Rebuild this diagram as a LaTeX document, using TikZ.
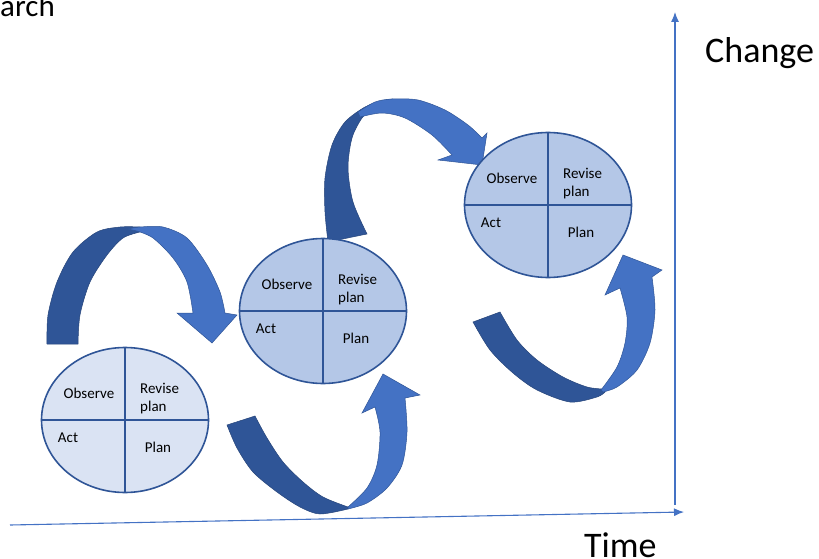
\documentclass[tikz,border=0pt]{standalone}
\usepackage{fontspec}
\setmainfont{Carlito}
\usepackage{tikz}
\usetikzlibrary{shapes.geometric, arrows.meta, calc}

\definecolor{cycA}{HTML}{DAE3F3}
\definecolor{cycB}{HTML}{B4C7E7}
\definecolor{rim}{HTML}{2F5597}
\definecolor{bandDark}{HTML}{2F5597}
\definecolor{bandLight}{HTML}{4472C4}
\definecolor{axis}{HTML}{4472C4}

\begin{document}
\begin{tikzpicture}[
  x=1pt, y=-1pt,
  cyc/.style={ellipse, draw=rim, line width=1.6pt, minimum width=167pt, minimum height=145pt, inner sep=0pt},
  cycline/.style={draw=rim, line width=1.6pt},
  lbl/.style={inner sep=0pt, font=\fontsize{15}{18}\selectfont},
  big/.style={inner sep=0pt, font=\fontsize{36}{40}\selectfont},
  back/.style={fill=bandDark, draw=rim!80!black, line width=0.5pt},
  front/.style={fill=bandLight, draw=rim, line width=0.5pt},
  axisline/.style={draw=axis, line width=1.1pt, -{Latex[length=10pt, width=8pt]}}
]
  \useasboundingbox (0,0) rectangle (819,559);

  \coordinate (t0) at (10,525);
  \coordinate (t1) at (684,512);
  \coordinate (c0) at (675,505);
  \coordinate (c1) at (675,12);
  \draw[axisline] (t0) -- (t1);
  \draw[axisline] (c0) -- (c1);

  \node[big, anchor=base west] (arch) at (0,17) {\fontsize{31}{34}\selectfont arch};
  \node[big, anchor=base west] (change) at (705,63) {Change};
  \node[big, anchor=base west] (time) at (584,557) {Time};

  % curved arrows
  \filldraw[back] plot[smooth] coordinates {(47,344) (48,315) (57,282) (73,252) (97,232) (120,227) (140,227)}
    -- plot[smooth] coordinates {(140,232) (123,238) (107,255) (90,282) (80,315) (78,344)} -- cycle;
  \filldraw[front] plot[smooth] coordinates {(128,229) (140,227) (163,227) (187,238) (207,265) (220,292) (225,313)}
    -- (237,315) -- (212,343) -- (177,313)
    -- plot[smooth] coordinates {(193,313) (187,282) (173,258) (153,238) (137,231)} -- cycle;

  \filldraw[back] plot[smooth] coordinates {(227,425) (237,448) (253,472) (277,492) (300,507) (320,514) (348,509)}
    -- plot[smooth] coordinates {(348,507) (323,497) (303,482) (283,462) (267,438) (255,416)} -- cycle;
  \filldraw[front] plot[smooth] coordinates {(348,509) (367,503) (387,488) (402,465) (407,432) (405,398)}
    -- (420,395) -- (383,374) -- (362,413)
    -- plot[smooth] coordinates {(375,407) (380,432) (377,465) (367,488) (348,507)} -- cycle;

  \filldraw[back] plot[smooth] coordinates {(328,242) (325,212) (325,178) (332,145) (345,122) (365,107) (382,101) (392,99)}
    -- plot[smooth] coordinates {(388,105) (372,110) (362,118) (352,138) (348,168) (353,202) (367,234)} -- cycle;
  \filldraw[front] plot[smooth] coordinates {(358,112) (375,102) (392,99) (418,100) (445,110) (468,125) (482,138)}
    -- (487,133) -- (482,165) -- (438,160)
    -- plot[smooth] coordinates {(452,155) (432,135) (405,118) (382,113) (360,117)} -- cycle;

  \filldraw[back] plot[smooth] coordinates {(473,322) (490,350) (513,373) (537,390) (570,402) (597,397) (605,392)}
    -- plot[smooth] coordinates {(603,389) (587,387) (563,377) (537,360) (517,340) (500,312)} -- cycle;
  \filldraw[front] plot[smooth] coordinates {(603,392) (617,387) (637,370) (650,343) (655,310) (652,277)}
    -- (662,270) -- (623,255) -- (605,295)
    -- plot[smooth] coordinates {(620,288) (627,317) (625,343) (617,367) (601,390)} -- cycle;

  % cycles
  \foreach \n/\x/\y/\c in {e1/125/420/cycA, e2/323/311/cycB, e3/548/205/cycB} {
    \node[cyc, fill=\c] (\n) at (\x,\y) {};
    \draw[cycline] (\n.north) -- (\n.south) (\n.west) -- (\n.east);
    \node[lbl] at ($(\n)+(-36,-27)$) {Observe};
    \node[lbl, anchor=west, align=left] at ($(\n)+(15,-21)$) {Revise\\plan};
    \node[lbl] at ($(\n)+(-57,18)$) {Act};
    \node[lbl] at ($(\n)+(33,27)$) {Plan};
  }
\end{tikzpicture}
\end{document}
